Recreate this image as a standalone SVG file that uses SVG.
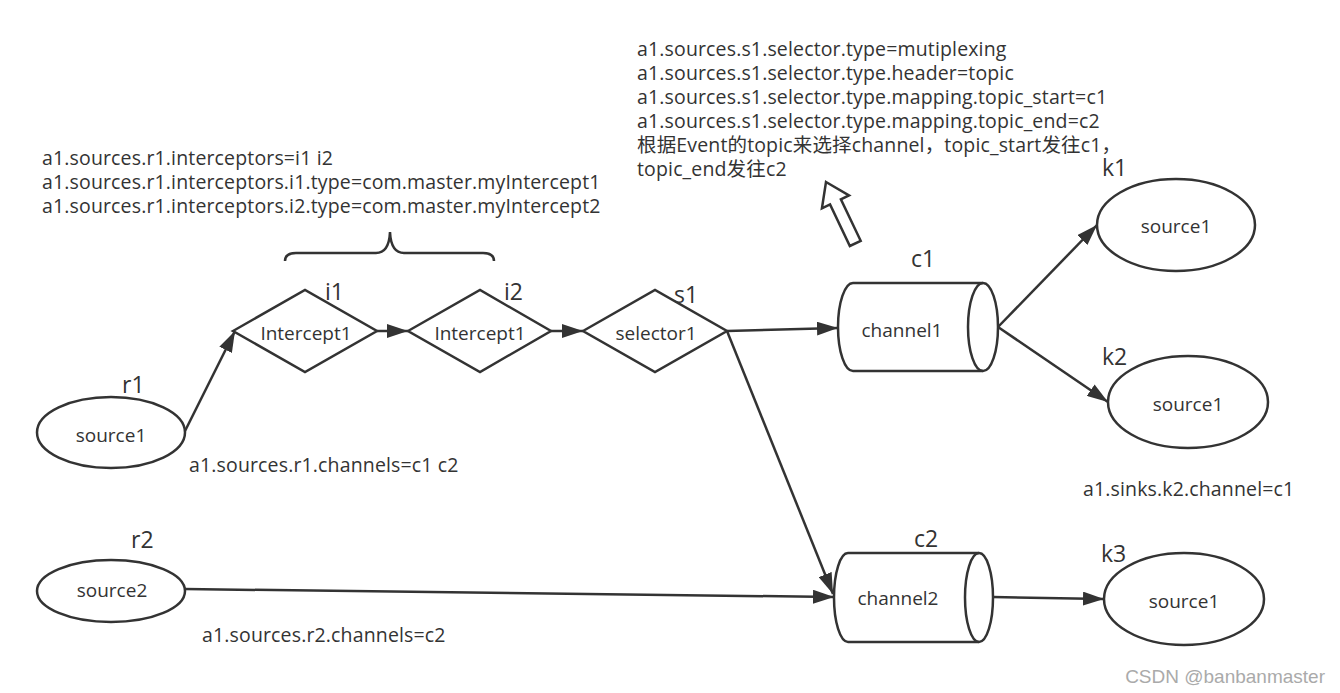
<svg xmlns="http://www.w3.org/2000/svg" width="1340" height="693" viewBox="0 0 1340 693">
<style>
text{font-family:"Open Sans","Noto Sans CJK SC",sans-serif;fill:#333}
.ann{font-size:19.5px;letter-spacing:0.15px}
.lbl{font-size:23px}
.nt{font-size:19px;text-anchor:middle}
.shape{fill:#fff;stroke:#333;stroke-width:2.5}
.edge{fill:none;stroke:#333;stroke-width:2.5}
.wm{font-family:"Liberation Sans",Arial,sans-serif;font-size:19px;fill:#aaa;text-anchor:end}
</style>
<defs>
<marker id="ah" markerUnits="userSpaceOnUse" viewBox="0 0 21 14" markerWidth="21" markerHeight="14" refX="21" refY="7" orient="auto">
<path d="M0,0 L21,7 L0,14 z" fill="#333"/>
</marker>
</defs>
<rect width="1340" height="693" fill="#fff"/>

<g id="annotations">
<text class="ann" x="637" y="56">a1.sources.s1.selector.type=mutiplexing</text>
<text class="ann" x="637" y="80">a1.sources.s1.selector.type.header=topic</text>
<text class="ann" x="637" y="104">a1.sources.s1.selector.type.mapping.topic_start=c1</text>
<text class="ann" x="637" y="128">a1.sources.s1.selector.type.mapping.topic_end=c2</text>
<text class="ann" x="637" y="152">根据Event的topic来选择channel，topic_start发往c1，</text>
<text class="ann" x="637" y="176">topic_end发往c2</text>
<text class="ann" x="42" y="165">a1.sources.r1.interceptors=i1 i2</text>
<text class="ann" x="42" y="189">a1.sources.r1.interceptors.i1.type=com.master.myIntercept1</text>
<text class="ann" x="42" y="213">a1.sources.r1.interceptors.i2.type=com.master.myIntercept2</text>
<text class="ann" x="189" y="472">a1.sources.r1.channels=c1 c2</text>
<text class="ann" x="202" y="642">a1.sources.r2.channels=c2</text>
<text class="ann" x="1083" y="496">a1.sinks.k2.channel=c1</text>
<path class="edge" d="M285,261 Q285,253 296,253 L376,253 Q389,253 390,232 Q391,253 404,253 L483,253 Q494,253 494,261"/>
<polygon class="shape" transform="translate(826,182) rotate(-25.5)" points="0,0 15,22 6,22 6,68 -6,68 -6,22 -15,22"/>
</g>

<g id="connectors">
<line class="edge" x1="185" y1="431" x2="235" y2="331" marker-end="url(#ah)"/>
<line class="edge" x1="377" y1="331" x2="408" y2="331" marker-end="url(#ah)"/>
<line class="edge" x1="551" y1="331" x2="583" y2="331" marker-end="url(#ah)"/>
<line class="edge" x1="727" y1="331" x2="838" y2="328" marker-end="url(#ah)"/>
<line class="edge" x1="727" y1="331" x2="833" y2="594" marker-end="url(#ah)"/>
<line class="edge" x1="185" y1="589" x2="834" y2="597" marker-end="url(#ah)"/>
<line class="edge" x1="998" y1="327" x2="1097" y2="225" marker-end="url(#ah)"/>
<line class="edge" x1="998" y1="327" x2="1108" y2="402" marker-end="url(#ah)"/>
<line class="edge" x1="993" y1="597" x2="1104" y2="599" marker-end="url(#ah)"/>
</g>

<g id="r1">
<ellipse class="shape" cx="111" cy="432.5" rx="74" ry="35.5"/>
<text class="nt" x="111" y="442">source1</text>
<text class="lbl" x="122" y="393">r1</text>
</g>
<g id="r2">
<ellipse class="shape" cx="111" cy="591" rx="74" ry="31"/>
<text class="nt" x="112" y="597">source2</text>
<text class="lbl" x="131" y="548">r2</text>
</g>
<g id="i1">
<polygon class="shape" points="233,331 305,290 377,331 305,372"/>
<text class="nt" x="306" y="340">Intercept1</text>
<text class="lbl" x="325" y="300">i1</text>
</g>
<g id="i2">
<polygon class="shape" points="408,331 480,290 551,331 480,372"/>
<text class="nt" x="480" y="340">Intercept1</text>
<text class="lbl" x="504" y="300">i2</text>
</g>
<g id="s1">
<polygon class="shape" points="583,331 655,290 727,331 655,372"/>
<text class="nt" x="656" y="340">selector1</text>
<text class="lbl" x="674" y="303">s1</text>
</g>
<g id="c1">
<path class="shape" d="M853,283 L983,283 A15,44 0 0 1 983,371 L853,371 A15,44 0 0 1 853,283 Z"/>
<path class="edge" d="M983,283 A15,44 0 0 0 983,371"/>
<text class="nt" x="902" y="337">channel1</text>
<text class="lbl" x="911" y="267">c1</text>
</g>
<g id="c2">
<path class="shape" d="M848,553 L979,553 A14,44.5 0 0 1 979,642 L848,642 A14,44.5 0 0 1 848,553 Z"/>
<path class="edge" d="M979,553 A14,44.5 0 0 0 979,642"/>
<text class="nt" x="898" y="605">channel2</text>
<text class="lbl" x="914" y="547">c2</text>
</g>
<g id="k1">
<ellipse class="shape" cx="1176" cy="225" rx="79" ry="46"/>
<text class="nt" x="1176" y="233">source1</text>
<text class="lbl" x="1102" y="176">k1</text>
</g>
<g id="k2">
<ellipse class="shape" cx="1188" cy="402" rx="80" ry="46"/>
<text class="nt" x="1188" y="411">source1</text>
<text class="lbl" x="1102" y="365">k2</text>
</g>
<g id="k3">
<ellipse class="shape" cx="1184" cy="599" rx="80" ry="46"/>
<text class="nt" x="1184" y="608">source1</text>
<text class="lbl" x="1101" y="562">k3</text>
</g>
<text class="wm" x="1325" y="683">CSDN @banbanmaster</text>
</svg>
